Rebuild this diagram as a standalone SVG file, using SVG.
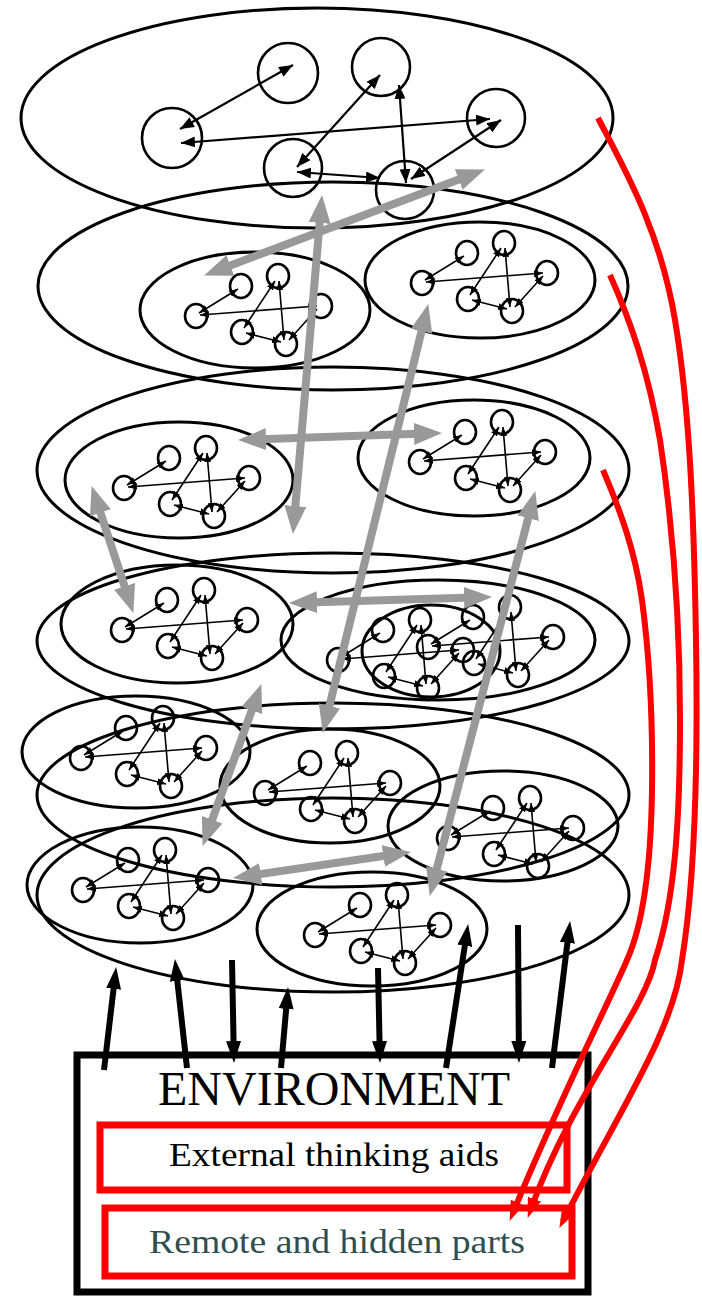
<svg xmlns="http://www.w3.org/2000/svg" xmlns:xlink="http://www.w3.org/1999/xlink" width="702" height="1298" viewBox="0 0 702 1298">
<style>
.lay{fill:none;stroke:#000;stroke-width:3}
.nd{fill:none;stroke:#000;stroke-width:2.6}
.tl{stroke:#000;stroke-width:1.6;fill:none;marker-start:url(#hs);marker-end:url(#hs)}
.tb{stroke:#000;stroke-width:2.2;fill:none;marker-start:url(#hm);marker-end:url(#hm)}
.gr{stroke:#999;stroke-width:8;fill:none;marker-start:url(#hg);marker-end:url(#hg)}
.bk{stroke:#000;stroke-width:6;fill:none;marker-end:url(#hb)}
.rd{stroke:#f00;stroke-width:6;fill:none;marker-end:url(#hr)}
.rbox{fill:none;stroke:#f00;stroke-width:7}
.serif{font-family:"Liberation Serif","DejaVu Serif",serif}
</style>
<defs>
<marker id="hs" viewBox="0 0 9 7" refX="9" refY="3.5" markerWidth="9" markerHeight="7" markerUnits="userSpaceOnUse" orient="auto-start-reverse"><path d="M0,0 L9,3.5 L0,7 Z" fill="#000"/></marker>
<marker id="hm" viewBox="0 0 14 11" refX="14" refY="5.5" markerWidth="14" markerHeight="11" markerUnits="userSpaceOnUse" orient="auto-start-reverse"><path d="M0,0 L14,5.5 L0,11 Z" fill="#000"/></marker>
<marker id="hg" viewBox="0 0 28 22" refX="17" refY="11" markerWidth="28" markerHeight="22" markerUnits="userSpaceOnUse" orient="auto-start-reverse"><path d="M0,0 L28,11 L0,22 Z" fill="#999"/></marker>
<marker id="hb" viewBox="0 0 22 15" refX="13" refY="7.5" markerWidth="22" markerHeight="15" markerUnits="userSpaceOnUse" orient="auto"><path d="M0,0 L22,7.5 L0,15 Z" fill="#000"/></marker>
<marker id="hr" viewBox="0 0 20 14" refX="12" refY="7" markerWidth="20" markerHeight="14" markerUnits="userSpaceOnUse" orient="auto"><path d="M0,0 L20,7 L0,14 Z" fill="#f00"/></marker>
<g id="motif">
<ellipse class="nd" cx="0" cy="0" rx="11" ry="12"/>
<ellipse class="nd" cx="45" cy="-30" rx="11" ry="12"/>
<ellipse class="nd" cx="82" cy="-40" rx="11" ry="12"/>
<ellipse class="nd" cx="125" cy="-10" rx="11" ry="12"/>
<ellipse class="nd" cx="46" cy="16" rx="11" ry="12"/>
<ellipse class="nd" cx="90" cy="28" rx="11" ry="12"/>
<line class="tl" x1="3" y1="-3" x2="42" y2="-27"/>
<line class="tl" x1="4" y1="-1" x2="121" y2="-10"/>
<line class="tl" x1="79" y1="-35" x2="48" y2="12"/>
<line class="tl" x1="83" y1="-35" x2="88" y2="24"/>
<line class="tl" x1="50" y1="17" x2="85" y2="26"/>
<line class="tl" x1="93" y1="24" x2="121" y2="-7"/>
</g>
</defs>
<rect width="702" height="1298" fill="#fff"/>

<g id="layer1">
<ellipse class="lay" cx="317" cy="118" rx="296" ry="110"/>
<g id="top-nodes">
<circle class="nd" cx="288" cy="73" r="30"/>
<circle class="nd" cx="381" cy="67" r="29"/>
<circle class="nd" cx="172" cy="138" r="30"/>
<circle class="nd" cx="496" cy="118" r="29"/>
<circle class="nd" cx="293" cy="168" r="29"/>
<circle class="nd" cx="405" cy="190" r="29"/>
</g>
<g id="top-links">
<line class="tb" x1="180" y1="129" x2="293" y2="65"/>
<line class="tb" x1="181" y1="143" x2="490" y2="119"/>
<line class="tb" x1="380" y1="75" x2="297" y2="167"/>
<line class="tb" x1="399" y1="85" x2="406" y2="183"/>
<line class="tb" x1="297" y1="172" x2="380" y2="178"/>
<line class="tb" x1="411" y1="179" x2="501" y2="120"/>
</g>
</g>

<g id="layer2">
<ellipse class="lay" cx="333" cy="286" rx="295" ry="104"/>
<g id="l2-left"><ellipse class="lay" cx="255" cy="310" rx="115" ry="58"/><use xlink:href="#motif" href="#motif" x="196" y="316"/></g>
<g id="l2-right"><ellipse class="lay" cx="480" cy="280" rx="115" ry="58"/><use xlink:href="#motif" href="#motif" x="422" y="283"/></g>
</g>

<g id="layer3">
<ellipse class="lay" cx="333" cy="470" rx="296" ry="103"/>
<g id="l3-left"><ellipse class="lay" cx="179" cy="480" rx="114" ry="58"/><use xlink:href="#motif" href="#motif" x="124" y="488"/></g>
<g id="l3-right"><ellipse class="lay" cx="474" cy="458" rx="116" ry="58"/><use xlink:href="#motif" href="#motif" x="420" y="462"/></g>
</g>

<g id="layer4">
<ellipse class="lay" cx="333" cy="641" rx="296" ry="88"/>
<g id="l4-left"><ellipse class="lay" cx="177" cy="624" rx="116" ry="59"/><use xlink:href="#motif" href="#motif" x="122" y="630"/></g>
<g id="l4-right"><ellipse class="lay" cx="438" cy="640" rx="157" ry="60"/><ellipse class="lay" cx="431" cy="651" rx="69" ry="46"/><use xlink:href="#motif" href="#motif" x="338" y="660"/><use xlink:href="#motif" href="#motif" x="428" y="647"/></g>
</g>

<g id="layer5">
<ellipse class="lay" cx="333" cy="795" rx="296" ry="92"/>
<g id="l5-a"><ellipse class="lay" cx="136" cy="752" rx="114" ry="56"/><use xlink:href="#motif" href="#motif" x="81" y="758"/></g>
<g id="l5-b"><ellipse class="lay" cx="330" cy="786" rx="110" ry="57"/><use xlink:href="#motif" href="#motif" x="265" y="793"/></g>
<g id="l5-c"><ellipse class="lay" cx="503" cy="826" rx="115" ry="55"/><use xlink:href="#motif" href="#motif" x="448" y="838"/></g>
</g>

<g id="layer6">
<ellipse class="lay" cx="333" cy="895" rx="296" ry="97"/>
<g id="l6-d"><ellipse class="lay" cx="140" cy="885" rx="113" ry="58"/><use xlink:href="#motif" href="#motif" x="83" y="890"/></g>
<g id="l6-e"><ellipse class="lay" cx="372" cy="929" rx="115" ry="57"/><use xlink:href="#motif" href="#motif" x="315" y="935"/></g>
</g>

<g id="environment">
<rect x="77" y="1055" width="511" height="237" fill="none" stroke="#000" stroke-width="7"/>
<text class="serif" x="158" y="1105" font-size="48" textLength="352" lengthAdjust="spacingAndGlyphs" fill="#000">ENVIRONMENT</text>
<g id="aids">
<rect class="rbox" x="100" y="1125" width="467" height="65"/>
<text class="serif" x="169" y="1166" font-size="34" textLength="330" lengthAdjust="spacingAndGlyphs" fill="#000">External thinking aids</text>
</g>
<g id="remote">
<rect class="rbox" x="105" y="1208" width="467" height="68"/>
<text class="serif" x="149" y="1253" font-size="34" textLength="376" lengthAdjust="spacingAndGlyphs" fill="#2f4f4f">Remote and hidden parts</text>
</g>
</g>

<g id="connectors">
<g id="gray-links">
<line class="gr" x1="214.4" y1="271.5" x2="474.6" y2="173.5"/>
<line class="gr" x1="321.1" y1="206" x2="293.9" y2="523"/>
<line class="gr" x1="249" y1="439.7" x2="431" y2="433.3"/>
<line class="gr" x1="425.6" y1="314.7" x2="325.4" y2="722.3"/>
<line class="gr" x1="95.1" y1="496.5" x2="129.9" y2="602.5"/>
<line class="gr" x1="532.5" y1="501.7" x2="432.5" y2="885.3"/>
<line class="gr" x1="300" y1="602.7" x2="481" y2="597.3"/>
<line class="gr" x1="257.6" y1="694.4" x2="206.4" y2="835.6"/>
<line class="gr" x1="243.9" y1="876.5" x2="400.1" y2="853.5"/>
</g>
<g id="env-links">
<line class="bk" x1="104" y1="1070" x2="115.1" y2="975.9"/>
<line class="bk" x1="187" y1="1068" x2="175.9" y2="968"/>
<line class="bk" x1="232" y1="960" x2="233.8" y2="1054"/>
<line class="bk" x1="281" y1="1068" x2="287.3" y2="996"/>
<line class="bk" x1="378" y1="968" x2="379.8" y2="1054"/>
<line class="bk" x1="446" y1="1068" x2="466.8" y2="932.9"/>
<line class="bk" x1="518" y1="925" x2="518.9" y2="1054"/>
<line class="bk" x1="552" y1="1068" x2="569" y2="929.9"/>
</g>
<g id="red-links">
<path class="rd" d="M598,118 C625,170 660,230 675,320 C690,410 694,520 696,640 C698,760 695,880 682,960 C674,1030 622,1106 563,1221"/>
<path class="rd" d="M610,275 C630,320 648,370 660,440 C672,520 680,620 680,720 C680,820 675,900 655,960 C646,1010 572,1094 530.4,1210.4"/>
<path class="rd" d="M603,470 C620,510 635,550 642,600 C650,660 653,720 652,790 C651,860 645,920 627,960 C610,1000 562,1094 512.7,1213.5"/>
</g>
</g>
</svg>
